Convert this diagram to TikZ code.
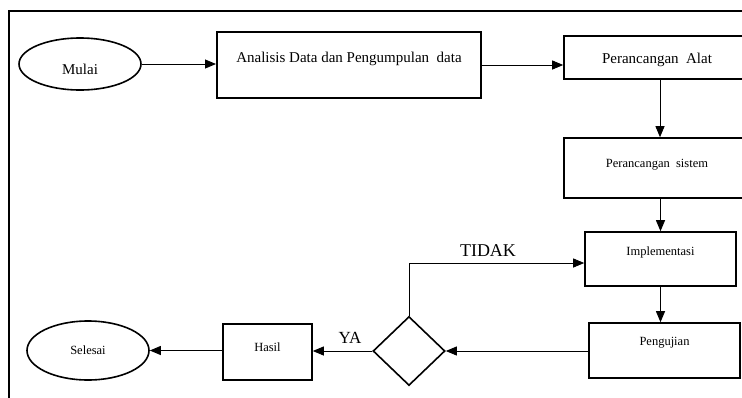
\documentclass[tikz,border=0pt]{standalone}
\usepackage{fontspec}
\setmainfont{Liberation Serif}
\usetikzlibrary{arrows.meta,shapes.geometric}
\newcommand{\shiftup}[2]{\raisebox{#1}[\height][\depth]{#2}}
\begin{document}
\begin{tikzpicture}[x=1pt,y=-1pt,
  box/.style={draw,line width=1.6pt,rectangle,inner sep=0pt},
  oval/.style={draw,line width=1.6pt,ellipse,inner sep=0pt},
  dec/.style={draw,line width=1.6pt,diamond,inner sep=0pt},
  conn/.style={line width=0.9pt,-{Triangle[length=11pt,width=9pt]}},
  big/.style={font=\fontsize{15}{17}\selectfont},
  small/.style={font=\fontsize{12.5}{14}\selectfont},
  lab/.style={font=\fontsize{18}{20}\selectfont,inner sep=0pt}]
\useasboundingbox (0,0) rectangle (742,397);
\begin{scope}
\clip (0,0) rectangle (742,397);
\fill[white] (0,0) rectangle (742,397);
\draw[line width=1.5pt] (9,400) -- (9,11) -- (750,11);
\node[oval,big,minimum width=122pt,minimum height=52pt] (mulai) at (80,64) {\shiftup{-5pt}{Mulai}};
\node[box,big,line width=2pt,minimum width=264pt,minimum height=66pt] (anal) at (349,65) {\shiftup{6pt}{Analisis Data dan Pengumpulan\ \ data}};
\node[box,big,minimum width=186pt,minimum height=43pt] (alat) at (657,57.5) {\shiftup{-2.5pt}{Perancangan\ \ Alat}};
\node[box,small,minimum width=186pt,minimum height=60pt] (sistem) at (657,168) {\shiftup{3pt}{Perancangan\ \ sistem}};
\node[box,small,minimum width=151pt,minimum height=54pt] (impl) at (660.5,259) {\shiftup{7pt}{Implementasi}};
\node[box,small,minimum width=151pt,minimum height=55pt] (peng) at (664.5,350.5) {\shiftup{7.5pt}{Pengujian}};
\node[dec,minimum width=72pt,minimum height=69pt] (dia) at (409,351) {};
\node[box,small,minimum width=89pt,minimum height=56pt] (hasil) at (267.5,352) {\shiftup{5pt}{Hasil}};
\node[oval,small,minimum width=122pt,minimum height=59pt] (selesai) at (88,350.5) {Selesai};
\draw[conn] (mulai.east) -- (mulai.east -| anal.west);
\draw[conn] (anal.east) -- (anal.east -| alat.west);
\draw[conn] ([xshift=3pt]alat.south) -- ([xshift=3pt]sistem.north);
\draw[conn] (sistem.south -| impl.north) -- (impl.north);
\draw[conn] (impl.south) -- (impl.south |- peng.north);
\draw[conn] (peng.west |- dia.east) -- (dia.east);
\draw[conn] (dia.north) |- ([yshift=-4pt]impl.west);
\node[lab] (tidak) at (488,251) {TIDAK};
\draw[conn] (dia.west) -- (dia.west -| hasil.east);
\node[lab,font=\fontsize{17}{19}\selectfont] (ya) at (350,338) {YA};
\draw[conn] (hasil.west |- selesai.east) -- (selesai.east);
\end{scope}
\end{tikzpicture}
\end{document}
